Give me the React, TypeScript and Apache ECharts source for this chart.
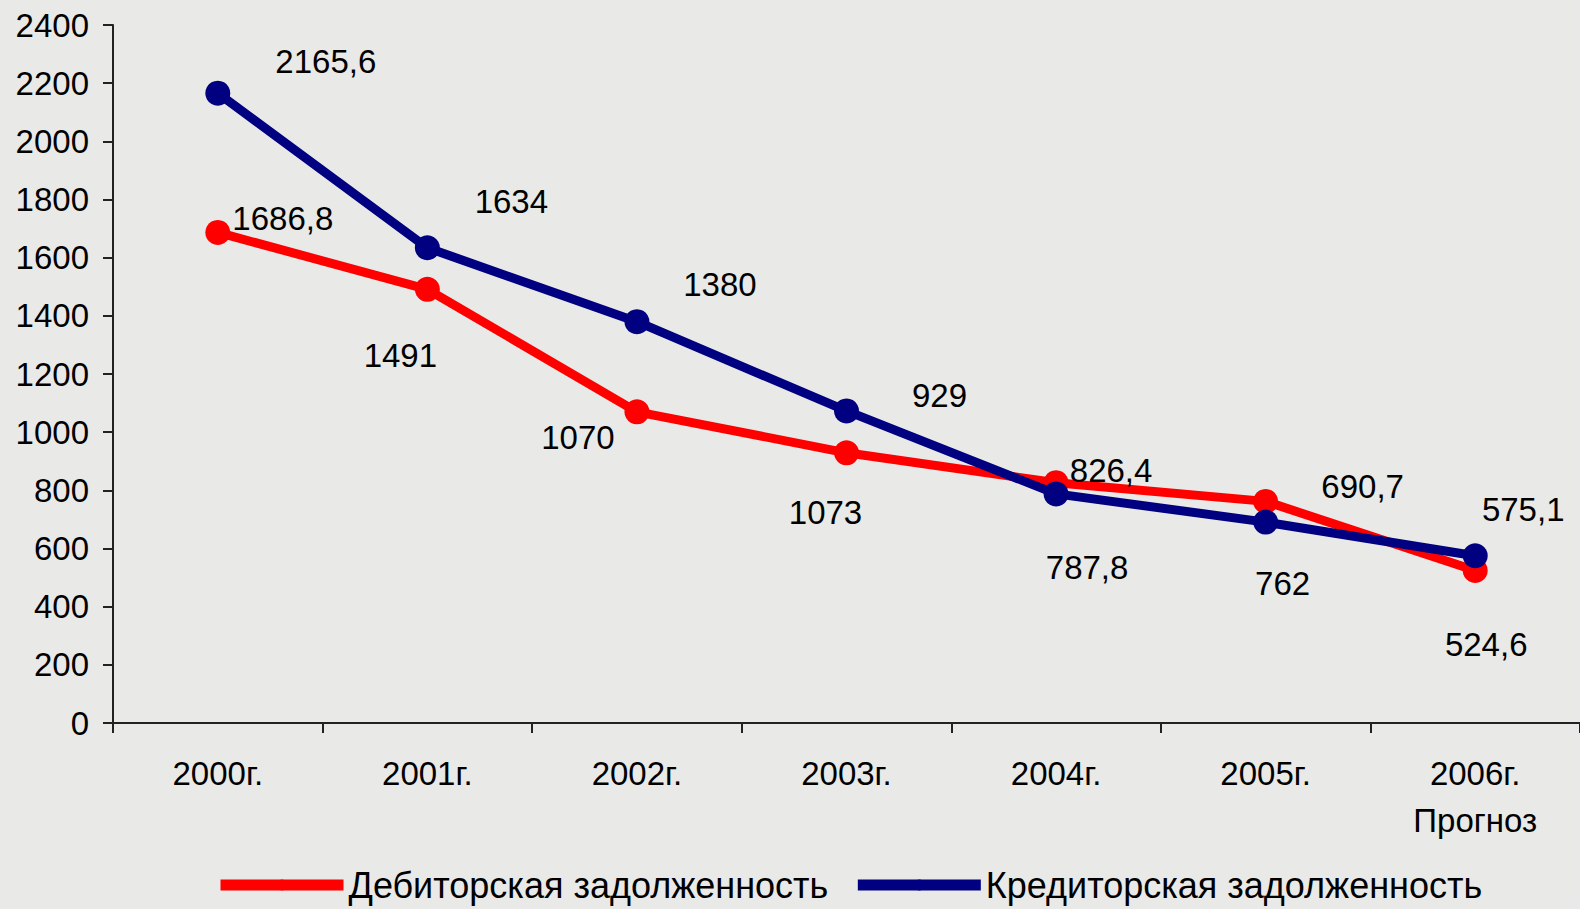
import React, { useEffect, useRef } from "react";
import * as echarts from "echarts";

const categories = ["2000г.", "2001г.", "2002г.", "2003г.", "2004г.", "2005г.", "2006г.\nПрогноз"];
const debitValues = [1686.8, 1491, 1070, 929, 826.4, 762, 524.6];
const creditValues = [2165.6, 1634, 1380, 1073, 787.8, 690.7, 575.1];
const debitLabels = ["1686,8", "1491", "1070", "1073", "787,8", "762", "524,6"];
const creditLabels = ["2165,6", "1634", "1380", "929", "826,4", "690,7", "575,1"];
const yTicks = [0, 200, 400, 600, 800, 1000, 1200, 1400, 1600, 1800, 2000, 2200, 2400];

// label layout offsets (pixels) – placement only
const debitOffsets = [[65, -14], [-27, 66], [-59, 26], [-21, 60], [31, 85], [17, 82], [11, 74]];
const creditOffsets = [[108, -32], [84, -46], [83, -37], [93, -15], [55, -23], [97, -36], [48, -46]];

const FONT = "'Liberation Sans', Arial, sans-serif";

export default function App() {
  const ref = useRef<HTMLDivElement>(null);
  useEffect(() => {
    document.body.style.margin = "0";
    const chart = echarts.init(ref.current!, null, { renderer: "svg" });
    chart.setOption({
      animation: false,
      backgroundColor: "#e9e9e7",
      textStyle: { fontFamily: FONT },
      grid: { left: 113, right: -5, top: 25, bottom: 186, containLabel: false },
      legend: {
        left: 210,
        top: 862,
        itemWidth: 123,
        itemHeight: 14,
        itemGap: 24,
        lineStyle: { width: 11 },
        textStyle: { fontSize: 36, color: "#000", fontFamily: FONT },
        data: ["Дебиторская задолженность", "Кредиторская задолженность"],
      },
      xAxis: {
        type: "category",
        data: categories,
        boundaryGap: true,
        axisLine: { lineStyle: { color: "#222", width: 2 } },
        axisTick: { show: true, length: 10, lineStyle: { color: "#222", width: 2 } },
        axisLabel: { fontSize: 33, color: "#000", margin: 27, lineHeight: 47, fontFamily: FONT },
        splitLine: { show: false },
      },
      yAxis: {
        type: "value",
        min: yTicks[0],
        max: yTicks[yTicks.length - 1],
        interval: 200,
        axisLine: { show: true, lineStyle: { color: "#222", width: 2 } },
        axisTick: { show: true, length: 10, lineStyle: { color: "#222", width: 2 } },
        axisLabel: {
          fontSize: 33,
          color: "#000",
          margin: 24,
          fontFamily: FONT,
          formatter: (v: number) => String(v),
        },
        splitLine: { show: false },
      },
      series: [
        {
          name: "Дебиторская задолженность",
          type: "line",
          data: debitValues,
          symbol: "circle",
          symbolSize: 25,
          lineStyle: { color: "#ff0000", width: 9 },
          itemStyle: { color: "#ff0000" },
          label: {
            show: true,
            position: "inside",
            formatter: (p: any) => debitLabels[p.dataIndex],
            color: "#000",
            fontSize: 33,
            fontFamily: FONT,
          },
          labelLayout: (p: any) => ({ dx: debitOffsets[p.dataIndex][0], dy: debitOffsets[p.dataIndex][1] }),
          z: 2,
        },
        {
          name: "Кредиторская задолженность",
          type: "line",
          data: creditValues,
          symbol: "circle",
          symbolSize: 25,
          lineStyle: { color: "#000080", width: 9 },
          itemStyle: { color: "#000080" },
          label: {
            show: true,
            position: "inside",
            formatter: (p: any) => creditLabels[p.dataIndex],
            color: "#000",
            fontSize: 33,
            fontFamily: FONT,
          },
          labelLayout: (p: any) => ({ dx: creditOffsets[p.dataIndex][0], dy: creditOffsets[p.dataIndex][1] }),
          z: 3,
        },
      ],
    });
    return () => chart.dispose();
  }, []);
  return <div ref={ref} style={{ width: 1580, height: 909 }} />;
}
